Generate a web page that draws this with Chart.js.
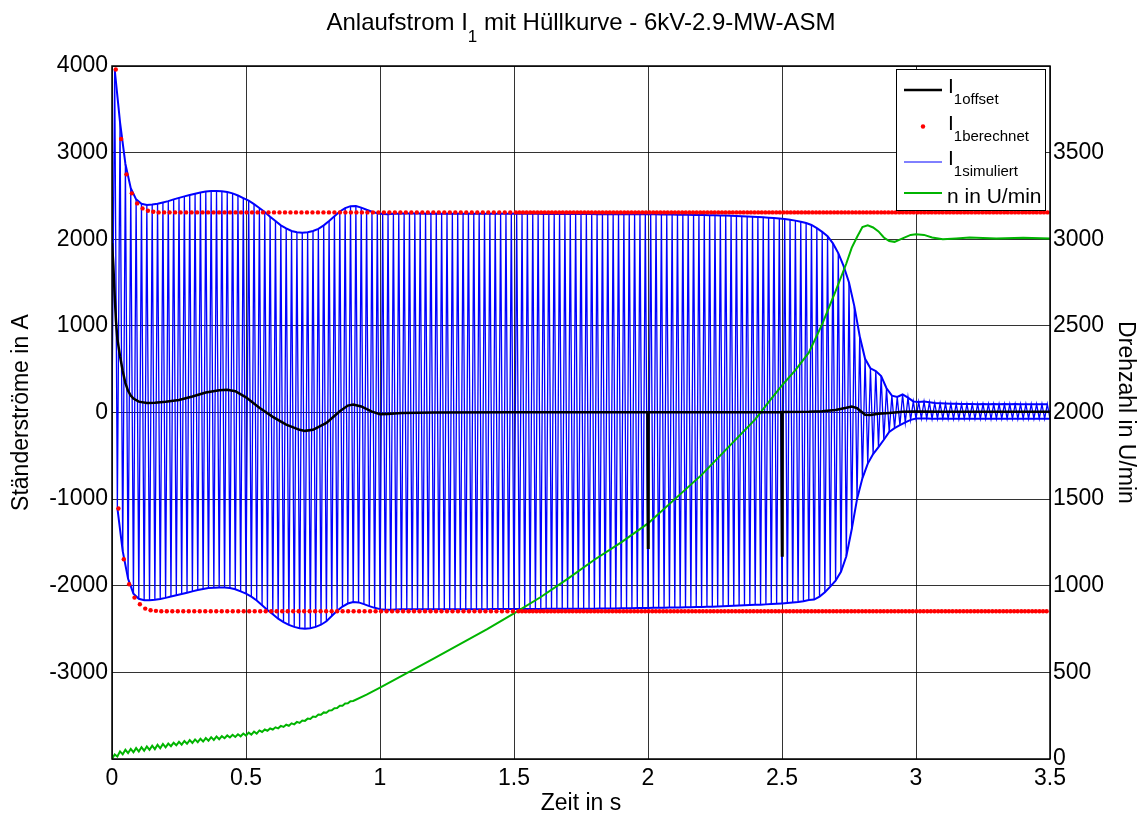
<!DOCTYPE html>
<html>
<head>
<meta charset="utf-8">
<script src="https://cdn.jsdelivr.net/npm/chart.js@4.4.0/dist/chart.umd.min.js"></script>
<style>
  html, body { margin: 0; padding: 0; background: #fff; }
</style>
</head>
<body>
<canvas id="anlauf" width="1141" height="817"></canvas>
<script>
// Spitzenwerte I1simuliert je Periode (50 Hz): obere Spitzen bei 0.01 + 0.02*i s
const spitzenOben = [
  3960, 3350, 2870, 2590, 2460, 2410, 2395, 2400, 2410, 2425,
  2440, 2460, 2478, 2495, 2510, 2525, 2540, 2550, 2556, 2558,
  2555, 2545, 2530, 2505, 2475, 2445, 2405, 2360, 2315, 2260,
  2210, 2160, 2125, 2095, 2080, 2074, 2080, 2095, 2120, 2160,
  2210, 2265, 2320, 2360, 2382, 2383, 2365, 2340, 2318, 2300,
  2292, 2290, 2293, 2295, 2296, 2296, 2296, 2296, 2295, 2295,
  2295, 2295, 2295, 2295, 2295, 2295, 2295, 2295, 2295, 2295,
  2294, 2294, 2294, 2294, 2294, 2294, 2294, 2294, 2293, 2293,
  2292, 2292, 2292, 2292, 2292, 2292, 2292, 2292, 2291, 2291,
  2290, 2290, 2290, 2290, 2290, 2290, 2289, 2289, 2289, 2289,
  2288, 2288, 2287, 2286, 2285, 2284, 2283, 2282, 2281, 2280,
  2279, 2278, 2277, 2275, 2273, 2271, 2269, 2266, 2263, 2260,
  2257, 2253, 2249, 2245, 2240, 2233, 2225, 2215, 2202, 2188,
  2165, 2128, 2085, 2035, 1952, 1840, 1690, 1500, 1225, 880,
  620, 510, 478, 420, 280, 195, 180, 208, 172, 128,
  122, 126, 118, 110, 106, 103, 101, 100, 99, 98,
  97, 96, 97, 96, 97, 96, 97, 96, 97, 96,
  96, 96, 96, 96, 96
];
// untere Spitzen bei 0.02 + 0.02*i s
const spitzenUnten = [
  -1100, -1600, -1920, -2091, -2150, -2168, -2168, -2162, -2152, -2140,
  -2125, -2110, -2095, -2080, -2065, -2050, -2037, -2026, -2022, -2020,
  -2020, -2025, -2040, -2065, -2090, -2125, -2170, -2225, -2280, -2330,
  -2380, -2420, -2452, -2475, -2490, -2495, -2490, -2475, -2450, -2410,
  -2350, -2290, -2240, -2205, -2187, -2192, -2212, -2235, -2255, -2270,
  -2278, -2276, -2273, -2271, -2270, -2270, -2270, -2270, -2270, -2270,
  -2270, -2270, -2270, -2270, -2270, -2270, -2270, -2270, -2270, -2270,
  -2268, -2268, -2268, -2268, -2268, -2268, -2268, -2268, -2268, -2268,
  -2266, -2266, -2266, -2266, -2266, -2266, -2266, -2266, -2266, -2266,
  -2264, -2264, -2263, -2262, -2261, -2260, -2259, -2258, -2257, -2256,
  -2255, -2254, -2253, -2252, -2251, -2250, -2249, -2248, -2246, -2245,
  -2243, -2241, -2239, -2237, -2235, -2232, -2229, -2226, -2223, -2220,
  -2218, -2215, -2212, -2209, -2205, -2200, -2194, -2187, -2178, -2165,
  -2160, -2125, -2075, -2010, -1940, -1840, -1660, -1350, -1000, -760,
  -590, -480, -400, -315, -225, -180, -147, -115, -85, -70,
  -68, -70, -72, -71, -70, -72, -73, -72, -71, -72,
  -72, -71, -72, -73, -72, -71, -72, -72, -73, -72,
  -72, -71, -72, -72, -72
];

// I1berechnet: Abklingen am Anfang, danach Beharrungswert
const berechnetObenStart = [3960, 3157, 2749, 2530, 2414, 2356, 2329, 2317];
const berechnetUntenStart = [-1109, -1694, -1983, -2137, -2214, -2264, -2283, -2290];
const berechnetOben = 2310;
const berechnetUnten = -2295;

// I1offset (Gleichanteil)
const offsetZeit = [0, 0.005, 0.01, 0.015, 0.02, 0.03, 0.04, 0.05, 0.06, 0.07, 0.08, 0.1, 0.13, 0.16, 0.2,
  0.25, 0.3, 0.35, 0.4, 0.43, 0.46, 0.5, 0.55, 0.6, 0.65, 0.7, 0.72, 0.75, 0.8, 0.85, 0.88, 0.9, 0.93,
  0.97, 1.0, 1.03, 1.08, 1.2, 1.5, 1.998, 2.0, 2.002, 2.498, 2.5, 2.502, 2.6, 2.65, 2.7, 2.74, 2.76,
  2.78, 2.8, 2.81, 2.83, 2.86, 2.9, 2.95, 3.0, 3.1, 3.3, 3.5];
const offsetWert = [1955, 1700, 1350, 1050, 850, 650, 480, 340, 250, 195, 160, 125, 110, 113, 125,
  145, 185, 230, 258, 262, 245, 175, 55, -50, -140, -200, -212, -200, -120, 15, 80, 92, 70,
  10, -20, -18, -5, 0, 2, 3, -1560, 3, 5, -1650, 5, 8, 15, 30, 55, 70,
  50, 0, -25, -30, -15, -5, 8, 12, 10, 10, 10];

// Drehzahl n in U/min
const drehzahlZeit = [0, 0.01, 0.02, 0.03, 0.04, 0.05, 0.06, 0.07, 0.08, 0.09, 0.1, 0.11, 0.12, 0.13, 0.14,
  0.15, 0.16, 0.17, 0.18, 0.19, 0.2, 0.21, 0.22, 0.23, 0.24, 0.25, 0.26, 0.27, 0.28, 0.29, 0.3,
  0.31, 0.32, 0.33, 0.34, 0.35, 0.36, 0.37, 0.38, 0.39, 0.4, 0.41, 0.42, 0.43, 0.44, 0.45, 0.46,
  0.47, 0.48, 0.49, 0.5, 0.51, 0.52, 0.53, 0.54, 0.55, 0.56, 0.57, 0.58, 0.59, 0.6, 0.61, 0.62,
  0.63, 0.64, 0.65, 0.66, 0.67, 0.68, 0.69, 0.7, 0.71, 0.72, 0.73, 0.74, 0.75, 0.76, 0.77, 0.78,
  0.79, 0.8, 0.81, 0.82, 0.83, 0.84, 0.85, 0.86, 0.87, 0.88, 0.89, 0.9,
  0.95, 1.0, 1.1, 1.2, 1.3, 1.4, 1.5, 1.6, 1.7, 1.8, 1.9, 2.0, 2.1, 2.2, 2.3, 2.4, 2.45, 2.5,
  2.55, 2.6, 2.65, 2.7, 2.74, 2.76, 2.78, 2.8, 2.82, 2.84, 2.86, 2.88, 2.9, 2.92, 2.95, 2.98,
  3.0, 3.03, 3.06, 3.1, 3.15, 3.2, 3.3, 3.4, 3.5];
const drehzahlWert = [0, 26, 14, 44, 27, 53, 34, 58, 39, 63, 43, 68, 48, 72, 53,
  77, 57, 82, 62, 87, 67, 89, 74, 94, 79, 99, 83, 104, 88, 109, 93,
  113, 97, 117, 101, 121, 106, 126, 110, 130, 114, 132, 120, 136, 124, 140, 127,
  143, 131, 147, 135, 152, 141, 158, 147, 165, 156, 170, 163, 176, 170, 183, 177,
  191, 185, 198, 192, 206, 200, 214, 208, 222, 220, 233, 231, 245, 243, 257, 255,
  269, 267, 280, 281, 293, 294, 307, 307, 320, 321, 334, 335,
  372, 412, 495, 580, 665, 750, 840, 935, 1040, 1150, 1250, 1360, 1500, 1640, 1800, 1960, 2060, 2157,
  2245, 2345, 2510, 2700, 2860, 2950, 3013, 3070, 3080, 3068, 3045, 3010, 2990, 2985, 3005, 3025,
  3029, 3025, 3010, 3000, 3005, 3010, 3005, 3008, 3005];

// Achsen
const xTicks = [0, 0.5, 1, 1.5, 2, 2.5, 3, 3.5];
const stromTicks = [-4000, -3000, -2000, -1000, 0, 1000, 2000, 3000, 4000];
const drehzahlTicks = [0, 500, 1000, 1500, 2000, 2500, 3000, 3500, 4000];

// Punktlisten fuer Chart.js aufbauen
const simuliert = [{ x: 0, y: 0 }];
const huelleOben = [];
const huelleUnten = [];
for (let i = 0; i < spitzenOben.length; i++) {
  const tO = +(0.01 + 0.02 * i).toFixed(3);
  const tU = +(0.02 + 0.02 * i).toFixed(3);
  simuliert.push({ x: tO, y: spitzenOben[i] });
  simuliert.push({ x: tU, y: spitzenUnten[i] });
  huelleOben.push({ x: tO, y: spitzenOben[i] });
  huelleUnten.push({ x: tU, y: spitzenUnten[i] });
}

const berechnet = [];
berechnetObenStart.forEach((v, i) => berechnet.push({ x: 0.014 + 0.02 * i, y: v }));
berechnetUntenStart.forEach((v, i) => berechnet.push({ x: 0.024 + 0.02 * i, y: v }));
for (let t = 0.174; t <= 3.5; t += (t < 1.5 ? 0.0205 : 0.0135)) {
  berechnet.push({ x: t, y: berechnetOben });
}
for (let t = 0.184; t <= 3.5; t += (t < 1.5 ? 0.0205 : 0.0135)) {
  berechnet.push({ x: t, y: berechnetUnten });
}

const offset = offsetZeit.map((t, i) => ({ x: t, y: offsetWert[i] }));
const drehzahl = drehzahlZeit.map((t, i) => ({ x: t, y: drehzahlWert[i] }));

const SCHRIFT = '"Liberation Sans", Arial, sans-serif';
const GRUEN = '#00b400';
const BLAU = '#0000ff';

// Text mit tiefgestelltem Index
function textMitIndex(ctx, x, y, haupt, index, rest, g1, g2) {
  ctx.font = g1 + 'px ' + SCHRIFT;
  const w1 = ctx.measureText(haupt).width;
  ctx.font = g2 + 'px ' + SCHRIFT;
  const w2 = ctx.measureText(index).width;
  ctx.font = g1 + 'px ' + SCHRIFT;
  const w3 = rest ? ctx.measureText(rest).width : 0;
  return { breite: w1 + w2 + w3, zeichne: (x0) => {
    ctx.font = g1 + 'px ' + SCHRIFT;
    ctx.fillText(haupt, x0, y);
    ctx.font = g2 + 'px ' + SCHRIFT;
    ctx.fillText(index, x0 + w1, y + Math.round(g1 * 0.5));
    if (rest) {
      ctx.font = g1 + 'px ' + SCHRIFT;
      ctx.fillText(rest, x0 + w1 + w2, y);
    }
  } };
}

const rahmenPlugin = {
  id: 'rahmen',
  afterDatasetsDraw(chart) {
    const { ctx, chartArea: a } = chart;
    ctx.save();
    ctx.strokeStyle = '#000';
    ctx.lineWidth = 1.5;
    ctx.strokeRect(a.left, a.top, a.right - a.left, a.bottom - a.top);
    ctx.restore();
  }
};

const titelPlugin = {
  id: 'titel',
  afterDraw(chart) {
    const ctx = chart.ctx;
    ctx.save();
    ctx.fillStyle = '#000';
    ctx.textBaseline = 'alphabetic';
    ctx.textAlign = 'left';
    const t = textMitIndex(ctx, 0, 30, 'Anlaufstrom I', '1', ' mit Hüllkurve - 6kV-2.9-MW-ASM', 24, 17);
    t.zeichne(581 - t.breite / 2);
    ctx.restore();
  }
};

const legendePlugin = {
  id: 'legende',
  afterDraw(chart) {
    const ctx = chart.ctx;
    ctx.save();
    ctx.fillStyle = '#fff';
    ctx.fillRect(896.5, 69.5, 149, 141);
    ctx.strokeStyle = '#000';
    ctx.lineWidth = 1;
    ctx.strokeRect(896.5, 69.5, 149, 141);
    const zeilen = [
      { art: 'linie', farbe: '#000', breite: 2.5, y: 90, index: '1offset' },
      { art: 'punkt', farbe: '#ff0000', y: 126.5, index: '1berechnet' },
      { art: 'linie', farbe: BLAU, breite: 1, y: 162, index: '1simuliert' },
      { art: 'linie', farbe: GRUEN, breite: 2, y: 193, text: 'n in U/min' }
    ];
    ctx.textAlign = 'left';
    ctx.textBaseline = 'alphabetic';
    zeilen.forEach(z => {
      if (z.art === 'linie') {
        ctx.strokeStyle = z.farbe;
        ctx.lineWidth = z.breite;
        ctx.beginPath();
        ctx.moveTo(904, z.y);
        ctx.lineTo(942, z.y);
        ctx.stroke();
      } else {
        ctx.fillStyle = z.farbe;
        ctx.beginPath();
        ctx.arc(923, z.y, 2.2, 0, Math.PI * 2);
        ctx.fill();
      }
      ctx.fillStyle = '#000';
      if (z.text) {
        ctx.font = '21px ' + SCHRIFT;
        ctx.fillText(z.text, 947, z.y + 10);
      } else {
        const t = textMitIndex(ctx, 0, z.y + 3, 'I', z.index, '', 21, 15);
        t.zeichne(948);
      }
    });
    ctx.restore();
  }
};

new Chart(document.getElementById('anlauf'), {
  type: 'line',
  data: {
    datasets: [
      { label: 'I1offset', data: offset, borderColor: '#000', borderWidth: 2.5, pointRadius: 0, yAxisID: 'y', order: 0 },
      { label: 'I1berechnet', data: berechnet, showLine: false, pointRadius: 2.2, pointBackgroundColor: '#ff0000',
        pointBorderWidth: 0, borderColor: '#ff0000', yAxisID: 'y', order: 1 },
      { label: 'n in U/min', data: drehzahl, borderColor: GRUEN, borderWidth: 2, pointRadius: 0, yAxisID: 'y2', order: 2 },
      { label: 'Huelle oben', data: huelleOben, borderColor: BLAU, borderWidth: 2, pointRadius: 0, yAxisID: 'y', order: 3 },
      { label: 'Huelle unten', data: huelleUnten, borderColor: BLAU, borderWidth: 2, pointRadius: 0, yAxisID: 'y', order: 3 },
      { label: 'I1simuliert', data: simuliert, borderColor: BLAU, borderWidth: 1.3, pointRadius: 0, yAxisID: 'y', order: 4 }
    ]
  },
  options: {
    responsive: false,
    animation: false,
    events: [],
    layout: { padding: { top: 66, left: 0, right: 0, bottom: 0 } },
    plugins: { legend: { display: false }, title: { display: false }, tooltip: { enabled: false } },
    elements: { line: { tension: 0 } },
    scales: {
      x: {
        type: 'linear', min: 0, max: 3.5,
        afterFit: s => { s.height = 58; },
        afterBuildTicks: s => { s.ticks = xTicks.map(v => ({ value: v })); },
        grid: { color: 'rgba(0,0,0,0.8)', lineWidth: 1, drawTicks: false },
        border: { display: false },
        ticks: { color: '#000', padding: 6, maxRotation: 0, font: { family: SCHRIFT, size: 23 },
          callback: v => String(Math.round(v * 10) / 10) },
        title: { display: true, text: 'Zeit in s', color: '#000', font: { family: SCHRIFT, size: 23 }, padding: { top: 0, bottom: 0 } }
      },
      y: {
        type: 'linear', position: 'left', min: -4000, max: 4000,
        afterFit: s => { s.width = 112; },
        afterBuildTicks: s => { s.ticks = stromTicks.map(v => ({ value: v })); },
        grid: { color: 'rgba(0,0,0,0.8)', lineWidth: 1, drawTicks: false },
        border: { display: false },
        ticks: { color: '#000', padding: 4, font: { family: SCHRIFT, size: 23 },
          callback: v => (v === -4000 ? '' : String(v)) },
        title: { display: true, text: 'Ständerströme in A', color: '#000', font: { family: SCHRIFT, size: 23 }, padding: { top: 8, bottom: 0 } }
      },
      y2: {
        type: 'linear', position: 'right', min: 0, max: 4000,
        afterFit: s => { s.width = 91; },
        afterBuildTicks: s => { s.ticks = drehzahlTicks.map(v => ({ value: v })); },
        grid: { display: false, drawTicks: false },
        border: { display: false },
        ticks: { color: '#000', padding: 3, font: { family: SCHRIFT, size: 23 },
          callback: v => (v === 4000 ? '' : String(v)) },
        title: { display: true, text: 'Drehzahl in U/min', color: '#000', font: { family: SCHRIFT, size: 23 }, padding: { top: 2, bottom: 0 } }
      }
    }
  },
  plugins: [rahmenPlugin, titelPlugin, legendePlugin]
});
</script>
</body>
</html>
